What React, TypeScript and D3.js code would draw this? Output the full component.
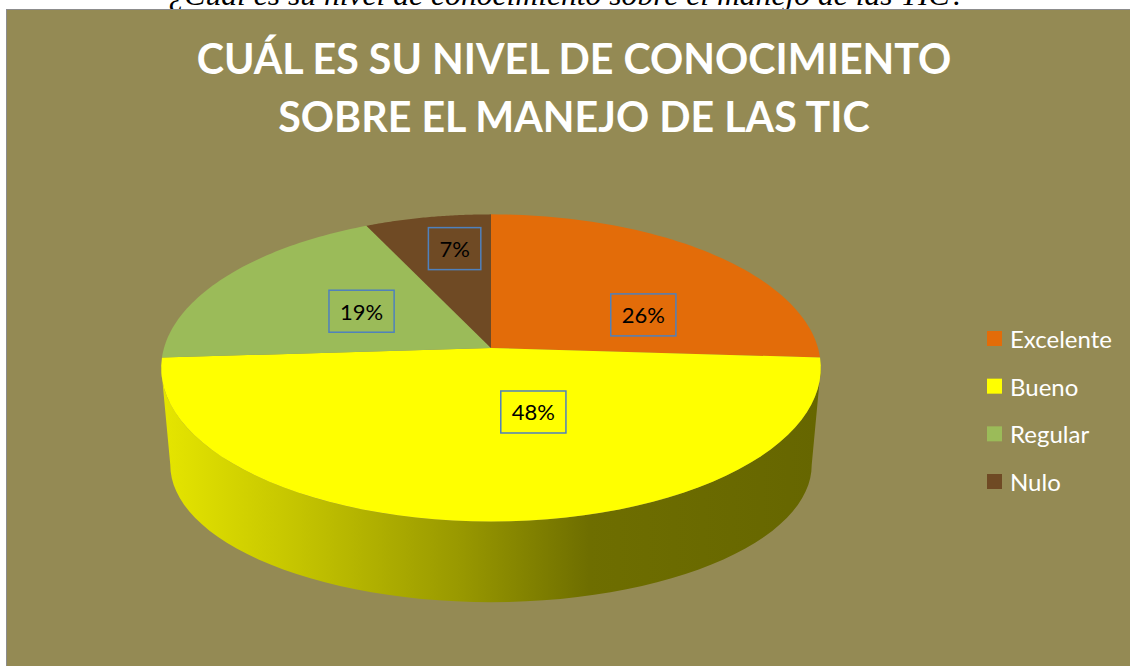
import React, { useRef, useEffect } from 'react';
import * as d3 from 'd3';

// data
const categories = ['Excelente', 'Bueno', 'Regular', 'Nulo'];
const values = [26, 48, 19, 7];
const percentLabels = ['26%', '48%', '19%', '7%'];
const colors = ['#E36C09', '#FFFF00', '#9BBB59', '#6F4A24'];
const titleLines = ['CUÁL ES SU NIVEL DE CONOCIMIENTO', 'SOBRE EL MANEJO DE LAS TIC'];
const caption = '¿Cuál es su nivel de conocimiento sobre el manejo de las TIC?';

// where excel nudged each label (radius fraction, angle shift in degrees)
const labelLayout = [
  { r: 0.53, shift: 18 },
  { r: 0.42, shift: -17 },
  { r: 0.48, shift: 1 },
  { r: 0.73, shift: 3 },
];

const width = 1130;
const height = 666;

// perspective ellipse for the top face and for the bottom rim
const persp = 0.13;
const topFace = { cx: 491, cy: 348, rx: 327, ry: 151 };
const bottomFace = { cx: 491, cy: 447, rx: 318, ry: 135 };

const project = (theta: number, r: number, f: typeof topFace): [number, number] => {
  const u = r * Math.sin(theta);
  const v = r * Math.cos(theta);
  const w = 1 + persp * v;
  return [f.cx + (f.rx * u) / w, f.cy - (f.ry * v) / w];
};

const App = () => {
  const svgRef = useRef<SVGSVGElement | null>(null);

  useEffect(() => {
    document.body.style.margin = '0';
    const svg = d3.select(svgRef.current);
    svg.selectAll('*').remove();

    svg.append('rect').attr('width', width).attr('height', height).attr('fill', '#ffffff');

    // caption of the document, cut at the top
    svg.append('text')
      .attr('x', 567)
      .attr('y', 5)
      .attr('text-anchor', 'middle')
      .attr('font-family', '"Liberation Serif", serif')
      .attr('font-style', 'italic')
      .attr('font-size', 29)
      .attr('textLength', 797)
      .attr('lengthAdjust', 'spacingAndGlyphs')
      .attr('fill', '#000')
      .text(caption);

    // chart area
    svg.append('rect')
      .attr('x', 6.5).attr('y', 9.5)
      .attr('width', width).attr('height', height)
      .attr('fill', '#948A54')
      .attr('stroke', '#8c8c8c');

    // title
    svg.append('g').selectAll('text')
      .data(titleLines)
      .join('text')
      .attr('x', 574)
      .attr('y', (d, i) => 74 + i * 58)
      .attr('text-anchor', 'middle')
      .attr('font-family', 'Lato, sans-serif')
      .attr('font-weight', 'bold')
      .attr('font-size', 41.2)
      .attr('fill', '#ffffff')
      .text(d => d);

    const pie = d3.pie<number>().sort(null).value(d => d)(values);

    const defs = svg.append('defs');
    const darkStops = [[0, 0.3], [0.2, 0.73], [0.45, 1.43], [0.65, 2.37], [1, 2.57]];
    colors.forEach((c, i) => {
      const g = defs.append('linearGradient')
        .attr('id', `side${i}`)
        .attr('gradientUnits', 'userSpaceOnUse')
        .attr('x1', topFace.cx - topFace.rx).attr('x2', topFace.cx + topFace.rx)
        .attr('y1', 0).attr('y2', 0);
      darkStops.forEach(([o, k]) => {
        g.append('stop').attr('offset', o).attr('stop-color', d3.rgb(c).darker(k).formatHex());
      });
    });

    const line = d3.line();
    const steps = (a0: number, a1: number) => d3.range(0, 61).map(j => a0 + ((a1 - a0) * j) / 60);

    // front wall
    const vis0 = Math.acos(-persp);
    const vis1 = 2 * Math.PI - vis0;
    const sides = svg.append('g');
    pie.forEach((s, i) => {
      const lo = Math.max(s.startAngle, vis0);
      const hi = Math.min(s.endAngle, vis1);
      if (lo >= hi) return;
      const topPts = steps(lo, hi).map(a => project(a, 1, topFace));
      const botPts = steps(lo, hi).map(a => project(a, 1, bottomFace)).reverse();
      sides.append('path')
        .attr('d', line([...topPts, ...botPts]) + 'Z')
        .attr('fill', `url(#side${i})`);
    });

    // top face
    svg.append('g').selectAll('path')
      .data(pie)
      .join('path')
      .attr('d', s => line([[topFace.cx, topFace.cy], ...steps(s.startAngle, s.endAngle).map(a => project(a, 1, topFace))]) + 'Z')
      .attr('fill', (s, i) => colors[i]);

    // data labels
    const labels = svg.append('g');
    pie.forEach((s, i) => {
      const mid = (s.startAngle + s.endAngle) / 2 + (labelLayout[i].shift * Math.PI) / 180;
      const [x, y] = project(mid, labelLayout[i].r, topFace);
      const t = labels.append('text')
        .attr('x', x).attr('y', y)
        .attr('text-anchor', 'middle')
        .attr('dominant-baseline', 'central')
        .attr('font-family', 'Lato, sans-serif')
        .attr('font-size', 22)
        .attr('fill', '#000')
        .text(percentLabels[i]);
      const w = (t.node() as SVGTextElement).getComputedTextLength() + 22;
      labels.insert('rect', 'text')
        .attr('x', x - w / 2).attr('y', y - 21)
        .attr('width', w).attr('height', 42)
        .attr('fill', 'none')
        .attr('stroke', '#4F81BD')
        .attr('stroke-width', 1.5);
    });

    // legend
    const ly = d3.scalePoint<string>().domain(categories).range([338.5, 481.5]);
    const legend = svg.append('g').selectAll('g')
      .data(categories)
      .join('g')
      .attr('transform', d => `translate(987, ${ly(d)})`);
    legend.append('rect')
      .attr('x', 0).attr('y', -7.5)
      .attr('width', 15).attr('height', 15)
      .attr('fill', (d, i) => colors[i]);
    legend.append('text')
      .attr('x', 23)
      .attr('dominant-baseline', 'central')
      .attr('font-family', 'Lato, sans-serif')
      .attr('font-size', 24)
      .attr('fill', '#ffffff')
      .text(d => d);
  }, []);

  return <svg ref={svgRef} width={width} height={height} style={{ display: 'block' }}></svg>;
};

export default App;
